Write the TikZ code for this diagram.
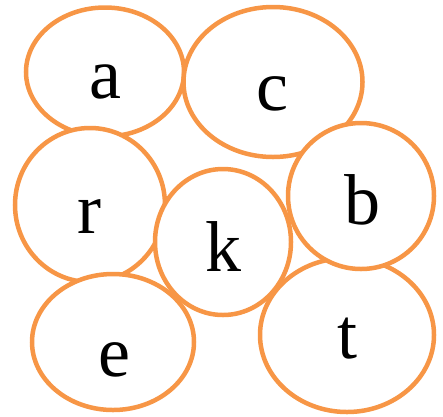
\documentclass[tikz,border=0pt]{standalone}
\usepackage{fontspec}
\setmainfont{Liberation Serif}
\usetikzlibrary{shapes.geometric}
\definecolor{ringc}{RGB}{247,150,70}
\newcommand{\LW}{4.5pt}

\begin{document}
\begin{tikzpicture}[x=1pt, y=-1pt,
    ring/.style={ellipse, draw=ringc, fill=white, line width=\LW, inner sep=0pt},
    letter/.style={anchor=base, inner sep=0pt, font=\fontsize{72}{72}\selectfont},
  ]
  \useasboundingbox (0,0) rectangle (443,416);

  %% ================= the rings (later ones cover earlier ones) =================
  \foreach \n/\x/\y/\w/\h in {a/105/72/158/129, c/273/82/179/150,
                              t/347/335/174/154, r/90/205/150/154,
                              e/113/342/162/136, k/223/242/136/146,
                              b/361/196/146/146} {
    \node[ring, minimum width=\w pt, minimum height=\h pt] (ring\n) at (\x,\y) {};
  }

  %% ================= the letters =================
  \foreach \n/\x/\y in {a/105/98, c/272/110, r/89/233, b/362/224,
                        k/223/271, e/114/376, t/347/358} {
    \node[letter] (lab\n) at (\x,\y) {\n};
  }
\end{tikzpicture}
\end{document}
